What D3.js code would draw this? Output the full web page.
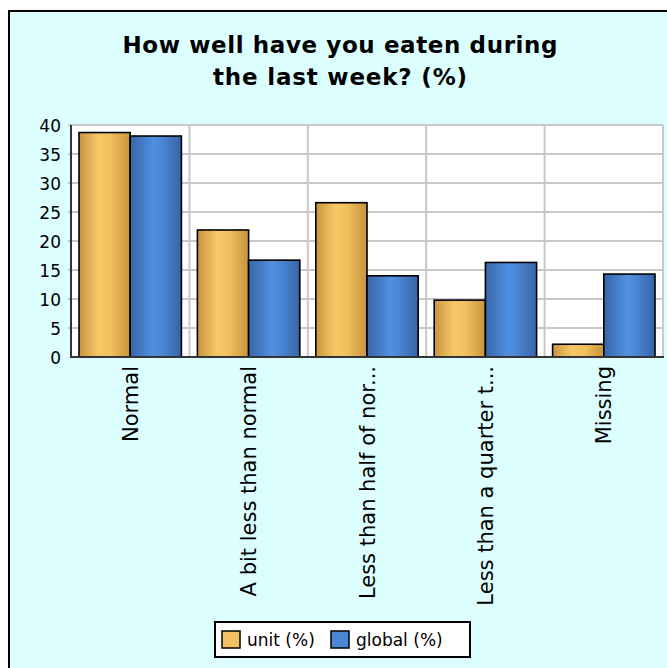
<!DOCTYPE html>
<html>
<head>
<meta charset="utf-8">
<script src="https://cdn.jsdelivr.net/npm/d3@7"></script>
<style>
  body { margin: 0; background: #ffffff; }
  svg { display: block; }
</style>
</head>
<body>
<svg class="chart" width="667" height="668"></svg>
<script>
const CATEGORIES = ["Normal", "A bit less than normal", "Less than half of nor...", "Less than a quarter t...", "Missing"];
const SERIES = ["unit (%)", "global (%)"];
const UNIT_VALUES = [38.7, 21.9, 26.6, 9.8, 2.2];
const GLOBAL_VALUES = [38.1, 16.7, 14.0, 16.3, 14.3];
const Y_TICKS = [0, 5, 10, 15, 20, 25, 30, 35, 40];
const TITLE_LINES = ["How well have you eaten during", "the last week? (%)"];
const TITLE_WIDTHS = [435, 254];

const PLOT_LEFT = 71;
const PLOT_RIGHT = 663;
const PLOT_TOP = 125;
const PLOT_BOTTOM = 357;
const BAR_GAP = 8;

const svg = d3.select("svg.chart");

// gradients for the bars
const defs = svg.append("defs");
const addGradient = (id, stops) => {
    const g = defs.append("linearGradient")
        .attr("id", id)
        .attr("x1", "0%").attr("x2", "100%")
        .attr("y1", "0%").attr("y2", "0%");
    stops.forEach(([offset, color]) => {
        g.append("stop").attr("offset", offset).attr("stop-color", color);
    });
};
addGradient("grad-unit", [["0%", "#c8933f"], ["38%", "#f7c867"], ["62%", "#f0bf5e"], ["100%", "#c8933d"]]);
addGradient("grad-global", [["0%", "#3865a9"], ["45%", "#5190e0"], ["62%", "#4b87d6"], ["100%", "#3763a6"]]);

const seriesFill = ["url(#grad-unit)", "url(#grad-global)"];
const legendFill = ["#f2c262", "#4a86d4"];

// frame
svg.append("rect")
    .attr("x", 9).attr("y", 11)
    .attr("width", 700).attr("height", 700)
    .attr("fill", "#dcfefe")
    .attr("stroke", "#000")
    .attr("stroke-width", 2);

// title
svg.append("g")
    .selectAll("text")
    .data(TITLE_LINES)
    .enter()
    .append("text")
    .attr("x", 340)
    .attr("y", (d, i) => 53 + i * 32)
    .attr("text-anchor", "middle")
    .attr("textLength", (d, i) => TITLE_WIDTHS[i])
    .attr("lengthAdjust", "spacing")
    .attr("font-family", "DejaVu Sans, sans-serif")
    .attr("font-weight", "bold")
    .attr("font-size", 23)
    .attr("fill", "#000")
    .text(d => d);

const x0 = d3.scaleBand()
    .domain(CATEGORIES)
    .range([PLOT_LEFT, PLOT_RIGHT]);
const x1 = d3.scaleBand()
    .domain(SERIES)
    .range([BAR_GAP, x0.bandwidth() - BAR_GAP]);
const y = d3.scaleLinear()
    .domain([0, 40])
    .range([PLOT_BOTTOM, PLOT_TOP]);

// plot background
svg.append("rect")
    .attr("x", PLOT_LEFT).attr("y", PLOT_TOP)
    .attr("width", PLOT_RIGHT - PLOT_LEFT)
    .attr("height", PLOT_BOTTOM - PLOT_TOP)
    .attr("fill", "#fff");

// grid
const grid = svg.append("g").attr("stroke", "#c8c8c8").attr("stroke-width", 2);
grid.selectAll("line.h")
    .data(Y_TICKS.slice(1))
    .enter().append("line")
    .attr("x1", PLOT_LEFT - 3).attr("x2", PLOT_RIGHT)
    .attr("y1", d => y(d)).attr("y2", d => y(d));
grid.selectAll("line.v")
    .data(CATEGORIES.slice(1).concat([null]))
    .enter().append("line")
    .attr("x1", d => d === null ? PLOT_RIGHT : x0(d))
    .attr("x2", d => d === null ? PLOT_RIGHT : x0(d))
    .attr("y1", PLOT_TOP).attr("y2", PLOT_BOTTOM);

// y axis labels
const yAxis = d3.axisLeft(y).tickValues(Y_TICKS).tickSize(0).tickPadding(10);
const yAxisG = svg.append("g")
    .attr("transform", `translate(${PLOT_LEFT},0)`)
    .call(yAxis);
yAxisG.select(".domain").remove();
yAxisG.selectAll("text")
    .attr("font-family", "DejaVu Sans, sans-serif")
    .attr("font-size", 17)
    .attr("fill", "#000")
    .attr("dy", "0.36em");

// bars
const rows = CATEGORIES.map((c, i) => ({category: c, values: [UNIT_VALUES[i], GLOBAL_VALUES[i]]}));
svg.append("g")
    .selectAll("g")
    .data(rows)
    .enter().append("g")
    .attr("transform", d => `translate(${x0(d.category)},0)`)
    .selectAll("rect")
    .data(d => d.values.map((v, j) => ({series: SERIES[j], value: v, j})))
    .enter().append("rect")
    .attr("x", d => x1(d.series))
    .attr("y", d => y(d.value))
    .attr("width", x1.bandwidth())
    .attr("height", d => y(0) - y(d.value))
    .attr("fill", d => seriesFill[d.j])
    .attr("stroke", "#000")
    .attr("stroke-width", 1.6);

// axis lines
svg.append("line")
    .attr("x1", PLOT_LEFT).attr("x2", PLOT_LEFT)
    .attr("y1", PLOT_TOP).attr("y2", PLOT_BOTTOM + 1)
    .attr("stroke", "#333").attr("stroke-width", 2);
svg.append("line")
    .attr("x1", PLOT_LEFT).attr("x2", PLOT_RIGHT + 1)
    .attr("y1", PLOT_BOTTOM).attr("y2", PLOT_BOTTOM)
    .attr("stroke", "#333").attr("stroke-width", 2);

// x labels
svg.append("g")
    .selectAll("text")
    .data(CATEGORIES)
    .enter().append("text")
    .attr("transform", d => `translate(${x0(d) + x0.bandwidth() / 2},366) rotate(-90)`)
    .attr("text-anchor", "end")
    .attr("dy", "0.36em")
    .attr("font-family", "DejaVu Sans, sans-serif")
    .attr("font-size", 21)
    .attr("fill", "#000")
    .text(d => d);

// legend
const legend = svg.append("g");
legend.append("rect")
    .attr("x", 215).attr("y", 622)
    .attr("width", 255).attr("height", 35)
    .attr("fill", "#fff")
    .attr("stroke", "#000")
    .attr("stroke-width", 2);
const legendX = [222, 331];
const legendItems = legend.selectAll("g.item")
    .data(SERIES)
    .enter().append("g")
    .attr("transform", (d, i) => `translate(${legendX[i]},631)`);
legendItems.append("rect")
    .attr("width", 18).attr("height", 17)
    .attr("fill", (d, i) => legendFill[i])
    .attr("stroke", "#000")
    .attr("stroke-width", 1.5);
legendItems.append("text")
    .attr("x", 25)
    .attr("y", 15)
    .attr("font-family", "DejaVu Sans, sans-serif")
    .attr("font-size", 17)
    .attr("fill", "#000")
    .text(d => d);
</script>
</body>
</html>
